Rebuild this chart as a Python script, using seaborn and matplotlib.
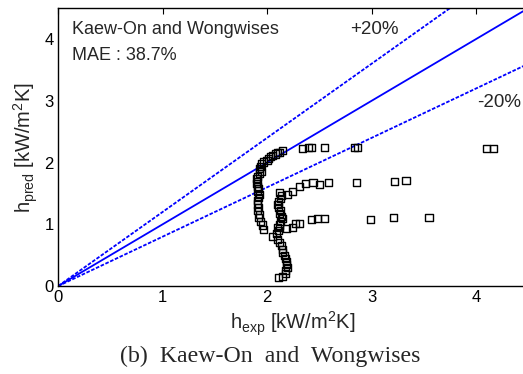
import matplotlib
matplotlib.use("Agg")
import matplotlib.pyplot as plt
import seaborn as sns
import pandas as pd

# Experimental vs predicted heat transfer coefficients [kW/m^2K]
h_exp = [
    # left strand
    2.15, 2.12, 2.10, 2.08, 2.05, 2.03, 2.01, 2.00, 1.97, 1.95, 1.94, 1.93,
    1.95, 1.93, 1.91, 1.90, 1.91, 1.90, 1.91, 1.92, 1.91, 1.93, 1.92, 1.91,
    1.91, 1.92, 1.91, 1.93, 1.92, 1.94, 1.96, 1.97,
    # right strand
    2.12, 2.14, 2.13, 2.11, 2.10, 2.11, 2.13, 2.12, 2.14, 2.15, 2.13, 2.12,
    2.10, 2.11, 2.09, 2.05, 2.10, 2.12, 2.14, 2.15, 2.15, 2.17, 2.18, 2.19,
    2.19, 2.20, 2.18, 2.18, 2.15, 2.11,
    # upper row
    2.34, 2.40, 2.43, 2.55, 2.84, 2.87, 4.10, 4.17,
    # middle row
    2.20, 2.24, 2.31, 2.37, 2.44, 2.50, 2.59, 2.86, 3.22, 3.33,
    # lower row
    2.19, 2.24, 2.27, 2.31, 2.43, 2.48, 2.55, 2.99, 3.21, 3.55,
]
h_pred = [
    2.19, 2.17, 2.16, 2.14, 2.12, 2.10, 2.07, 2.04, 2.01, 1.98, 1.94, 1.90,
    1.86, 1.82, 1.78, 1.74, 1.70, 1.66, 1.62, 1.58, 1.54, 1.48, 1.43, 1.38,
    1.33, 1.27, 1.22, 1.16, 1.11, 1.05, 0.99, 0.92,
    1.52, 1.47, 1.42, 1.37, 1.32, 1.27, 1.22, 1.18, 1.13, 1.09, 1.04, 0.99,
    0.95, 0.90, 0.85, 0.80, 0.76, 0.71, 0.66, 0.60, 0.55, 0.50, 0.45, 0.40,
    0.35, 0.30, 0.25, 0.21, 0.16, 0.14,
    2.23, 2.24, 2.24, 2.24, 2.24, 2.24, 2.23, 2.23,
    1.48, 1.53, 1.61, 1.66, 1.68, 1.65, 1.68, 1.68, 1.69, 1.71,
    0.94, 0.95, 1.02, 1.02, 1.08, 1.09, 1.09, 1.08, 1.11, 1.11,
]

# Reference lines: perfect agreement and +/-20% bands
ref_x = [0.0, 4.5]
ratios = [1.0, 1.2, 0.8]

sns.set_theme(style="white")
plt.rcParams["font.family"] = ["Liberation Sans", "DejaVu Sans"]
plt.rcParams["mathtext.fontset"] = "custom"
plt.rcParams["mathtext.rm"] = "Liberation Sans"
plt.rcParams["mathtext.it"] = "Liberation Sans"

fig = plt.figure(figsize=(5.23, 3.74), dpi=100)
ax = fig.add_axes([0.111, 0.235, 0.899, 0.743])

pts = pd.DataFrame({"h_exp": h_exp, "h_pred": h_pred})

for r in ratios:
    line = pd.DataFrame({"x": ref_x, "y": [v * r for v in ref_x]})
    sns.lineplot(data=line, x="x", y="y", ax=ax, color="#0000ff",
                 linewidth=1.3,
                 linestyle="-" if r == 1.0 else (0, (2.0, 0.9)))

sns.scatterplot(data=pts, x="h_exp", y="h_pred", ax=ax, marker="s", s=26,
                facecolor="none", edgecolor="black", linewidth=1.0, zorder=3)

ax.set_xlim(0, 4.5)
ax.set_ylim(0, 4.5)
ax.set_xticks([0, 1, 2, 3, 4])
ax.set_yticks([0, 1, 2, 3, 4])
ax.tick_params(direction="in", length=4, width=0.8, labelsize=12,
               top=True, right=False, colors="black", pad=3)
for s in ax.spines.values():
    s.set_color("black")
    s.set_linewidth(1.0)

ax.set_xlabel(r"h$_{\mathrm{exp}}$ [kW/m$^{2}$K]", fontsize=14.5, labelpad=3)
ax.set_ylabel(r"h$_{\mathrm{pred}}$ [kW/m$^{2}$K]", fontsize=14.5, labelpad=3)

ax.text(0.13, 4.15, "Kaew-On and Wongwises", fontsize=13, va="center", ha="left")
ax.text(0.13, 3.74, "MAE : 38.7%", fontsize=13, va="center", ha="left")
ax.text(2.8, 4.15, "+20%", fontsize=13.5, va="center", ha="left")
ax.text(4.01, 2.98, "-20%", fontsize=13.5, va="center", ha="left")

fig.text(0.516, 0.048, "(b)  Kaew-On  and  Wongwises", ha="center", va="center",
         fontsize=17.2, family=["Liberation Serif", "DejaVu Serif"])

fig.savefig("out.png", dpi=100)
